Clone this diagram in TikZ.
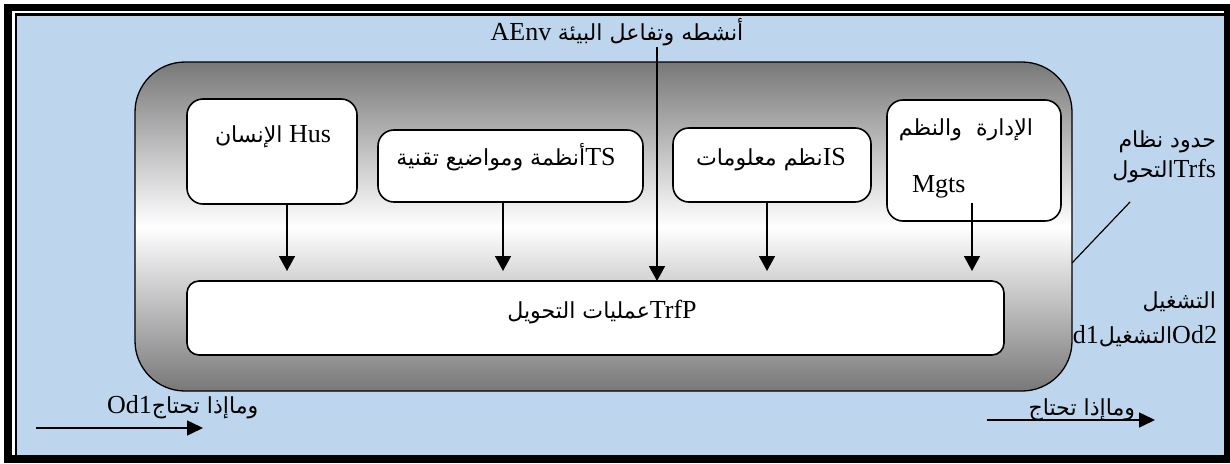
\documentclass[tikz,border=0pt]{standalone}
\usepackage{fontspec}
\setmainfont{Liberation Serif}
\newfontfamily\arabicfont[Script=Arabic,Scale=0.85]{DejaVu Sans}
\TeXXeTstate=1
\usetikzlibrary{arrows.meta,calc}
\newcommand{\artxt}[1]{{\arabicfont\beginR #1\endR}}
\definecolor{skyfill}{RGB}{190,214,237}
\definecolor{rimgray}{RGB}{120,120,120}

\begin{document}
\begin{tikzpicture}[x=1pt,y=-1pt,
  font=\fontsize{26}{31}\selectfont,
  inbox/.style={draw=black,line width=1.6pt,fill=white,rounded corners=16pt,
                inner sep=0pt,outer sep=0pt},
  sysbox/.style={draw=black,line width=1.3pt,rounded corners=50pt,
                 top color=rimgray,bottom color=rimgray,middle color=white,
                 inner sep=0pt,outer sep=0pt,minimum width=937pt,minimum height=329pt},
  arr/.style={line width=1.6pt,-{Triangle[length=15pt,width=16pt]}},
  bigarr/.style={line width=1.6pt,-{Triangle[length=16pt,width=15pt]}},
  lbl/.style={inner sep=0pt,outer sep=0pt,text=black}]

\useasboundingbox (0,0) rectangle (1230,463);

% double frame and light blue ground
\fill[black] (4,4) rectangle (1230,463);
\fill[white] (12,11) rectangle (1224,455);
\fill[black] (15,13) rectangle (1224,455);
\fill[skyfill] (17,16) rectangle (1224,455);

% output label partly hidden behind the system boundary
\node[lbl,anchor=base east] (out2) at (1217,343) {Od1\artxt{التشغيل}Od2};

% transformation system boundary
\node[sysbox] (sys) at (603.5,226.5) {};

% subsystems
\node[inbox,minimum width=170pt,minimum height=105pt] (hus) at (272,151.5) {};
\node[inbox,minimum width=265pt,minimum height=72pt] (ts) at (510.5,166) {};
\node[inbox,minimum width=198pt,minimum height=74pt] (is) at (772,165) {};
\node[inbox,minimum width=174pt,minimum height=121pt] (mgts) at (974,160.5) {};
\node[inbox,rounded corners=12pt,minimum width=817pt,minimum height=74pt] (trfp) at (595.5,318) {};

% texts
\node[lbl,anchor=base] (aenvt) at (617,40) {AEnv \artxt{أنشطه وتفاعل البيئة}};
\node[lbl,anchor=base] (hust) at (273,142) {\artxt{الإنسان} Hus};
\node[lbl,anchor=base] (tst) at (506,165) {\artxt{أنظمة ومواضيع تقنية}TS};
\node[lbl,anchor=base] (ist) at (771,165) {\artxt{نظم معلومات}IS};
\node[lbl,anchor=base east] (mgtsa) at (1033,135) {\artxt{الإدارة~ والنظم}};
\node[lbl,anchor=base west] (mgtsl) at (912,192) {Mgts};
\node[lbl,anchor=base] (trfpt) at (602,318) {\artxt{عمليات التحويل}TrfP};

\node[lbl,anchor=base east] (bnd1) at (1216,147) {\artxt{حدود نظام}};
\node[lbl,anchor=base east] (bnd2) at (1216,177) {\artxt{التحول}Trfs};
\node[lbl,anchor=base east] (out1) at (1216,308) {\artxt{التشغيل}};

\node[lbl,anchor=base west] (inl) at (107,413) {Od1\artxt{وماإذا تحتاج}};
\node[lbl,anchor=base east] (outl) at (1135,415) {\artxt{وماإذا تحتاج}};

% arrow targets above the process box
\coordinate (t1) at (287,271);
\coordinate (t2) at (503,271);
\coordinate (t3) at (767,271);
\coordinate (t4) at (972,271);
\coordinate (s4) at (972,203);
\coordinate (ae) at (657,47);

\draw[arr] (hus.south -| t1) -- (t1);
\draw[arr] (ts.south -| t2) -- (t2);
\draw[arr] (is.south -| t3) -- (t3);
\draw[arr] (s4) -- (t4);
\draw[arr] (ae) -- (ae |- trfp.north);

% boundary pointer
\coordinate (bp) at (1130,202);
\draw[line width=1.2pt] (bp) -- (sys.east |- 0,263);

% input and output arrows
\coordinate (inA) at (36,428);
\coordinate (inB) at (203,428);
\draw[bigarr] (inA) -- (inB);
\coordinate (outA) at (987,420);
\coordinate (outB) at (1155,420);
\draw[bigarr] (outA) -- (outB);
\end{tikzpicture}
\end{document}
